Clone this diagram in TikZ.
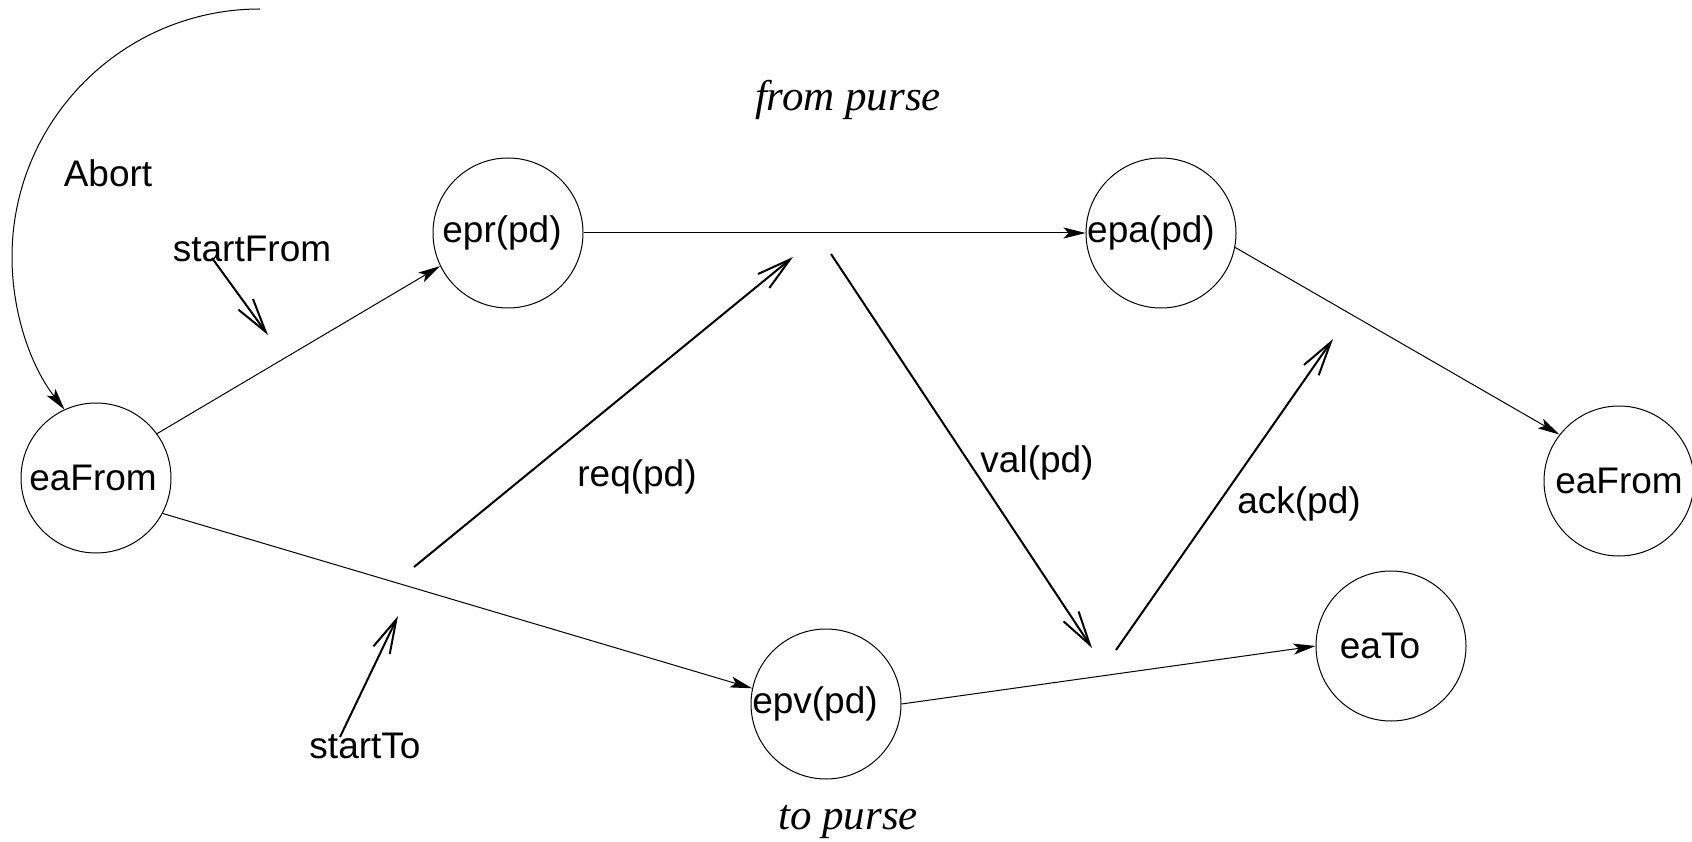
\documentclass[tikz,border=0pt]{standalone}
\usepackage{fontspec}
\setmainfont{Liberation Sans}
\newfontfamily\serifit{Liberation Serif}
\usetikzlibrary{arrows.meta}
\begin{document}
\begin{tikzpicture}[x=1pt,y=-1pt,
  state/.style={draw, circle, line width=1pt, minimum size=150pt, inner sep=0pt},
  lab/.style={font=\fontsize{37}{44}\selectfont, inner sep=0pt},
  side/.style={font=\serifit\itshape\fontsize{43}{50}\selectfont, inner sep=0pt},
  trans/.style={line width=1pt, -{Stealth[length=22pt,width=11pt,inset=5pt]}},
  msg/.style={line width=2pt, -{Straight Barb[length=34pt,width=18pt]}}]
\useasboundingbox (0,0) rectangle (1692,842);
% states
\node[state, label={[lab, xshift=-3pt]center:eaFrom}] (eaL) at (96,478) {};
\node[state, label={[lab, xshift=-6pt]center:epr(pd)}] (epr) at (508,233) {};
\node[state, label={[lab, xshift=-10pt]center:epa(pd)}] (epa) at (1161,233) {};
\node[state, label={[lab]center:eaFrom}] (eaR) at (1619,481) {};
\node[state, label={[lab, xshift=-11pt]center:epv(pd)}] (epv) at (826,704) {};
\node[state, label={[lab, xshift=-11pt]center:eaTo}] (eaTo) at (1391,646) {};
% labels
\node[lab] (abort) at (108,173) {Abort};
\node[lab] (sf) at (252,249) {startFrom};
\node[lab] (st) at (365,746) {startTo};
\node[lab] (req) at (637,477) {req(pd)};
\node[lab] (val) at (1037,463) {val(pd)};
\node[lab] (ack) at (1299,504) {ack(pd)};
\node[side] (fp) at (848,100) {from purse};
\node[side] (tp) at (848,822) {to purse};
% transitions
\draw[trans] (eaL.36) -- (epr.206);
\draw[trans] (eaL.-28) -- (epv.168);
\draw[trans] (epr.east) -- (epa.west);
\draw[trans] (epa.-11) -- (eaR.142);
\draw[trans] (epv.east) -- (eaTo.west);
\coordinate (abS) at (260,9);
\draw[trans] (abS) arc[start angle=-90, end angle=-218, radius=248];
% messages
\coordinate (sf1) at (212,258); \coordinate (sf2) at (268,335);
\coordinate (st1) at (340,737); \coordinate (st2) at (398,616);
\coordinate (rq1) at (414,567); \coordinate (rq2) at (793,257);
\coordinate (vl1) at (831,254); \coordinate (vl2) at (1092,648);
\coordinate (ak1) at (1116,650); \coordinate (ak2) at (1333,339);
\draw[msg] (sf1) -- (sf2);
\draw[msg] (st1) -- (st2);
\draw[msg] (rq1) -- (rq2);
\draw[msg] (vl1) -- (vl2);
\draw[msg] (ak1) -- (ak2);
\end{tikzpicture}
\end{document}
